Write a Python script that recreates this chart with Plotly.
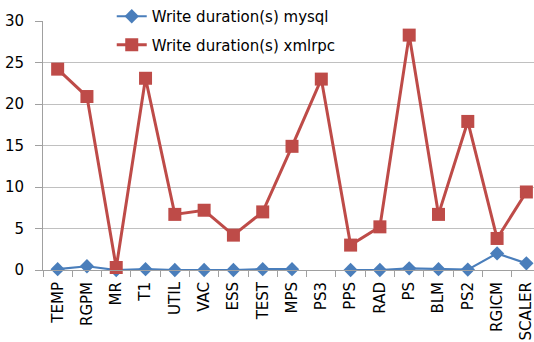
import plotly.graph_objects as go

categories = ["TEMP", "RGPM", "MR", "T1", "UTIL", "VAC", "ESS", "TEST", "MPS",
              "PS3", "PPS", "RAD", "PS", "BLM", "PS2", "RGICM", "SCALER"]
mysql = [0.1, 0.45, 0.0, 0.1, 0.0, 0.0, 0.0, 0.1, 0.1,
         None, 0.0, 0.0, 0.2, 0.1, 0.05, 2.0, 0.8]
xmlrpc = [24.2, 20.9, 0.3, 23.1, 6.7, 7.2, 4.2, 7.0, 14.9,
          23.0, 3.0, 5.2, 28.3, 6.7, 17.9, 3.8, 9.4]

blue = "#4a7ebb"
red = "#be4b48"
grid = "#c0c0c0"
axis_col = "#a0a0a0"
font = "DejaVu Sans"

fig = go.Figure()
fig.add_trace(go.Scatter(
    x=categories, y=mysql, name="Write duration(s) mysql",
    legendgroup="mysql",
    mode="lines+markers", line=dict(color=blue, width=2.2),
    marker=dict(symbol="diamond", size=11, color=blue),
    cliponaxis=False, connectgaps=False,
))
fig.add_trace(go.Scatter(
    x=categories, y=xmlrpc, name="Write duration(s) xmlrpc",
    legendgroup="xmlrpc",
    mode="lines+markers", line=dict(color=red, width=3),
    marker=dict(symbol="square", size=13, color=red),
    cliponaxis=False,
))

# white backing behind the legend so the top gridline is interrupted there
fig.add_shape(
    type="rect", xref="paper", yref="paper",
    x0=(83 - 43) / 491, x1=(378 - 43) / 491, y0=0.93, y1=1.1,
    fillcolor="white", line=dict(width=0), layer="between",
)

fig.update_layout(
    width=534, height=342,
    margin=dict(l=43, r=0, t=19, b=72),
    paper_bgcolor="white", plot_bgcolor="white",
    font=dict(family=font, size=15, color="#000000"),
    showlegend=True,
    legend=dict(
        x=0.14, y=1.085, xanchor="left", yanchor="top",
        bgcolor="rgba(255,255,255,0)", font=dict(family=font, size=15),
        tracegroupgap=6, itemwidth=30,
    ),
    xaxis=dict(
        type="category", range=[-0.5, 16.26],
        showgrid=False, showline=True, linecolor=axis_col, linewidth=1,
        ticks="outside", tickson="boundaries", ticklen=6, tickcolor=axis_col,
        tickangle=-90, tickfont=dict(family=font, size=15),
        ticklabelstandoff=5,
    ),
    yaxis=dict(
        range=[0, 30], dtick=5,
        showgrid=True, gridcolor=grid, gridwidth=1,
        zeroline=False,
        showline=True, linecolor=axis_col, linewidth=1,
        ticks="outside", ticklen=7, tickcolor=axis_col,
        tickfont=dict(family=font, size=15),
        ticklabelstandoff=8,
    ),
)

fig.write_html("out.html")
